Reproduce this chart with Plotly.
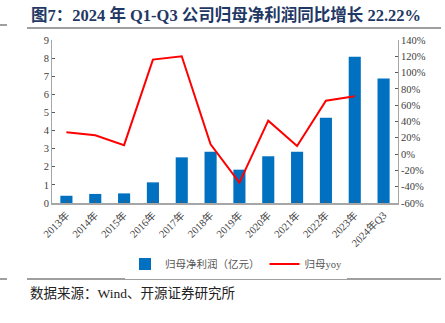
import plotly.graph_objects as go

categories = ["2013年", "2014年", "2015年", "2016年", "2017年", "2018年",
              "2019年", "2020年", "2021年", "2022年", "2023年", "2024年Q3"]
profit = [0.40, 0.50, 0.53, 1.14, 2.52, 2.83, 1.84, 2.58, 2.83, 4.71, 8.07, 6.87]
yoy = [26.7, 23.0, 11.0, 116.0, 120.0, 12.0, -35.0, 41.0, 10.0, 65.5, 71.0, None]

left_ticks = list(range(0, 10))
right_ticks = list(range(-60, 141, 20))
right_labels = [f"{v}%" for v in right_ticks]

FONT = "Liberation Serif, Noto Sans CJK SC, serif"

fig = go.Figure()
fig.add_trace(go.Bar(x=categories, y=profit, name="归母净利润（亿元）",
                     marker=dict(color="#0070C0", line=dict(width=0)), yaxis="y"))
fig.add_trace(go.Scatter(x=categories, y=yoy, name="归母yoy", mode="lines",
                         line=dict(color="#FF0000", width=2), yaxis="y2"))

W, H = 445, 323
L, R, T, B = 52, 47, 40, 120
pw, ph = W - L - R, H - T - B

def px(x):
    return (x - L) / pw

def py(y):
    return (H - B - y) / ph

fig.update_layout(
    width=W, height=H,
    margin=dict(l=L, r=R, t=T, b=B),
    paper_bgcolor="white", plot_bgcolor="white",
    font=dict(family=FONT, size=10, color="#333333"),
    bargap=0.58,
    showlegend=True,
    legend=dict(orientation="h", x=px(236), xanchor="center", y=py(264), yanchor="middle",
                font=dict(size=10.5, color="#555555"), itemwidth=30, traceorder="normal"),
    xaxis=dict(showline=True, linecolor="#A6A6A6", linewidth=2, ticks="inside",
               ticklen=3, tickcolor="#595959", tickangle=-45, showgrid=False,
               tickfont=dict(size=10.5, color="#404040")),
    yaxis=dict(range=[0, 9], tickvals=left_ticks, showline=True, linecolor="#A6A6A6",
               linewidth=1, ticks="inside", ticklen=3, tickcolor="#595959",
               showgrid=False, zeroline=False, tickfont=dict(size=10.5, color="#404040")),
    yaxis2=dict(range=[-60, 140], tickvals=right_ticks, ticktext=right_labels,
                overlaying="y", side="right", showline=True, linecolor="#A6A6A6",
                linewidth=1, ticks="inside", ticklen=3, tickcolor="#595959",
                showgrid=False, zeroline=False, tickfont=dict(size=10.5, color="#404040")),
    annotations=[
        dict(text="<b>图7：2024 年 Q1-Q3 公司归母净利润同比增长 22.22%</b>",
             xref="paper", yref="paper", x=px(29), y=py(15), xanchor="left", yanchor="middle",
             showarrow=False, font=dict(family=FONT, size=16.5, color="#1F3864")),
        dict(text="数据来源：Wind、开源证券研究所",
             xref="paper", yref="paper", x=px(28), y=py(293), xanchor="left", yanchor="middle",
             showarrow=False, font=dict(family=FONT, size=13.5, color="#222222")),
    ],
    shapes=[
        dict(type="line", xref="paper", yref="paper", x0=px(27), x1=px(441), y0=py(28), y1=py(28),
             line=dict(color="#7F7F7F", width=1.5)),
        dict(type="line", xref="paper", yref="paper", x0=px(0), x1=px(7), y0=py(25), y1=py(25),
             line=dict(color="#7F7F7F", width=1.5)),
        dict(type="line", xref="paper", yref="paper", x0=px(27), x1=px(441), y0=py(279), y1=py(279),
             line=dict(color="#7F7F7F", width=1.5)),
        dict(type="line", xref="paper", yref="paper", x0=px(0), x1=px(7), y0=py(279), y1=py(279),
             line=dict(color="#7F7F7F", width=1.5)),
    ],
)

fig.write_html("out.html")
